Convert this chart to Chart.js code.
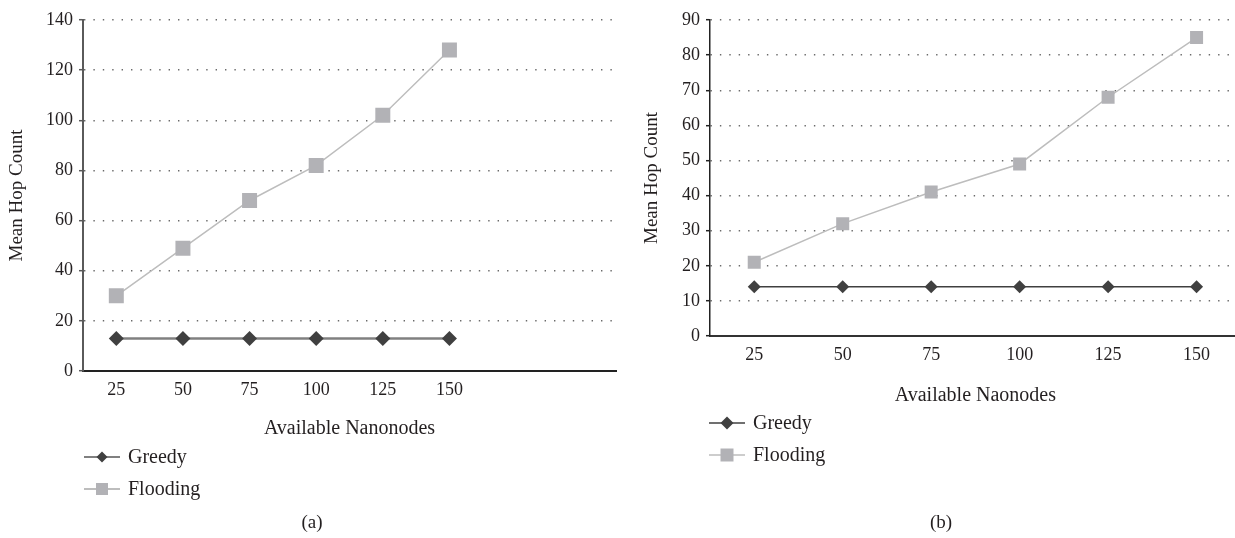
<!DOCTYPE html>
<html>
<head>
<meta charset="utf-8">
<script src="https://cdn.jsdelivr.net/npm/chart.js@4"></script>
<style>
  html, body { margin: 0; padding: 0; background: #fff; overflow: hidden; }
  body { width: 1235px; height: 538px; position: relative; }
  .box { position: absolute; top: 0; height: 538px; }
  .cap { position: absolute; top: 511px; font: 19px "Liberation Serif", serif; color: #231f20; transform: translateX(-50%); }
</style>
</head>
<body>
<div class="box" style="left:0;width:640px"><canvas id="chartA"></canvas></div>
<div class="box" style="left:630px;width:620px"><canvas id="chartB"></canvas></div>
<div class="cap" style="left:312px">(a)</div>
<div class="cap" style="left:941px">(b)</div>
<script>
// chart (a) has two empty slots after 150, like the original sheet
let nodesA = ["25", "50", "75", "100", "125", "150", "", ""];
let greedyA = [13, 13, 13, 13, 13, 13, null, null];
let floodingA = [30, 49, 68, 82, 102, 128, null, null];

let nodesB = ["25", "50", "75", "100", "125", "150"];
let greedyB = [14, 14, 14, 14, 14, 14];
let floodingB = [21, 32, 41, 49, 68, 85];

const serif = "'Liberation Serif', 'DejaVu Serif', serif";
const textColor = "#231f20";

// legend drawn below the plot, stacked like in the paper figure
let stackedLegend = {
  id: "stackedLegend",
  afterDraw(chart, args, opts) {
    const ctx = chart.ctx;
    ctx.save();
    chart.data.datasets.forEach((ds, i) => {
      const y = opts.y + i * 32;
      const x0 = opts.x, x1 = opts.x + 36, cx = opts.x + 18;
      ctx.strokeStyle = ds.borderColor;
      ctx.lineWidth = opts.line;
      ctx.beginPath();
      ctx.moveTo(x0, y);
      ctx.lineTo(x1, y);
      ctx.stroke();
      ctx.fillStyle = ds.pointBackgroundColor;
      ctx.beginPath();
      if (ds.pointStyle == "rectRot") {
        const r = opts.diamond;
        ctx.moveTo(cx, y - r);
        ctx.lineTo(cx + r, y);
        ctx.lineTo(cx, y + r);
        ctx.lineTo(cx - r, y);
        ctx.closePath();
      } else {
        const s = opts.square;
        ctx.rect(cx - s, y - s, s * 2, s * 2);
      }
      ctx.fill();
      ctx.fillStyle = textColor;
      ctx.font = "20px " + serif;
      ctx.textBaseline = "middle";
      ctx.fillText(ds.label, x1 + 8, y + 1);
    });
    ctx.restore();
  },
};

let makeChart = (id, labels, greedy, flooding, cfg) => {
  return new Chart(document.getElementById(id).getContext("2d"), {
    type: "line",
    data: {
      labels: labels,
      datasets: [
        {
          label: "Greedy",
          data: greedy,
          borderColor: cfg.greedyLine,
          borderWidth: cfg.greedyWidth,
          pointStyle: "rectRot",
          pointRadius: cfg.diamondR,
          pointBackgroundColor: "#404040",
          pointBorderWidth: 0,
          tension: 0,
        },
        {
          label: "Flooding",
          data: flooding,
          borderColor: "#bdbdbd",
          borderWidth: 1.5,
          pointStyle: "rect",
          pointRadius: cfg.squareR,
          pointBackgroundColor: "#b2b2b6",
          pointBorderWidth: 0,
          tension: 0,
        },
      ],
    },
    options: {
      responsive: true,
      maintainAspectRatio: false,
      animation: false,
      layout: { padding: { left: 0, top: 20, right: cfg.padRight, bottom: cfg.padBottom } },
      plugins: {
        legend: { display: false },
        tooltip: { enabled: false },
        stackedLegend: cfg.legend,
      },
      scales: {
        x: {
          offset: true,
          grid: { display: false, drawTicks: false },
          border: { display: true, color: cfg.xBorder, width: 2 },
          ticks: { color: textColor, font: { family: serif, size: 18 }, padding: 8, maxRotation: 0, autoSkip: false },
          title: {
            display: true,
            text: cfg.xTitle,
            color: textColor,
            font: { family: serif, size: 20 },
            padding: { top: 6, bottom: 0 },
          },
          afterFit: (scale) => {
            scale.height = cfg.xHeight;
          },
        },
        y: {
          min: 0,
          max: cfg.yMax,
          ticks: { stepSize: cfg.yStep, color: textColor, font: { family: serif, size: 18 }, padding: 6 },
          grid: {
            color: "#6a6a6a",
            lineWidth: 1.4,
            drawTicks: true,
            tickLength: 4,
            tickColor: cfg.yBorder,
            tickWidth: 1.5,
            tickBorderDash: [],
          },
          border: { display: true, color: cfg.yBorder, width: cfg.yBorderWidth, dash: [1.4, 8] },
          title: {
            display: true,
            text: "Mean Hop Count",
            color: textColor,
            font: { family: serif, size: 19 },
            padding: { top: cfg.yTitlePad, bottom: 0 },
          },
          afterFit: (scale) => {
            scale.width = cfg.yWidth;
          },
        },
      },
    },
    plugins: [stackedLegend],
  });
};

makeChart("chartA", nodesA, greedyA, floodingA, {
  greedyLine: "#808080",
  greedyWidth: 2.5,
  diamondR: 7.5,
  squareR: 10.6,
  padRight: 24,
  padBottom: 97,
  xHeight: 70,
  xBorder: "#222",
  xTitle: "Available Nanonodes",
  yMax: 140,
  yStep: 20,
  yBorder: "#5a5a5a",
  yBorderWidth: 2,
  yTitlePad: 6,
  yWidth: 83,
  legend: { x: 84, y: 457, diamond: 5.5, square: 6, line: 2 },
});

makeChart("chartB", nodesB, greedyB, floodingB, {
  greedyLine: "#404040",
  greedyWidth: 1.5,
  diamondR: 6.5,
  squareR: 9.2,
  padRight: 9,
  padBottom: 130,
  xHeight: 72,
  xBorder: "#333",
  xTitle: "Available Naonodes",
  yMax: 90,
  yStep: 10,
  yBorder: "#222",
  yBorderWidth: 1.5,
  yTitlePad: 11,
  yWidth: 80,
  legend: { x: 79, y: 423, diamond: 6.5, square: 6.5, line: 1.5 },
});
</script>
</body>
</html>
